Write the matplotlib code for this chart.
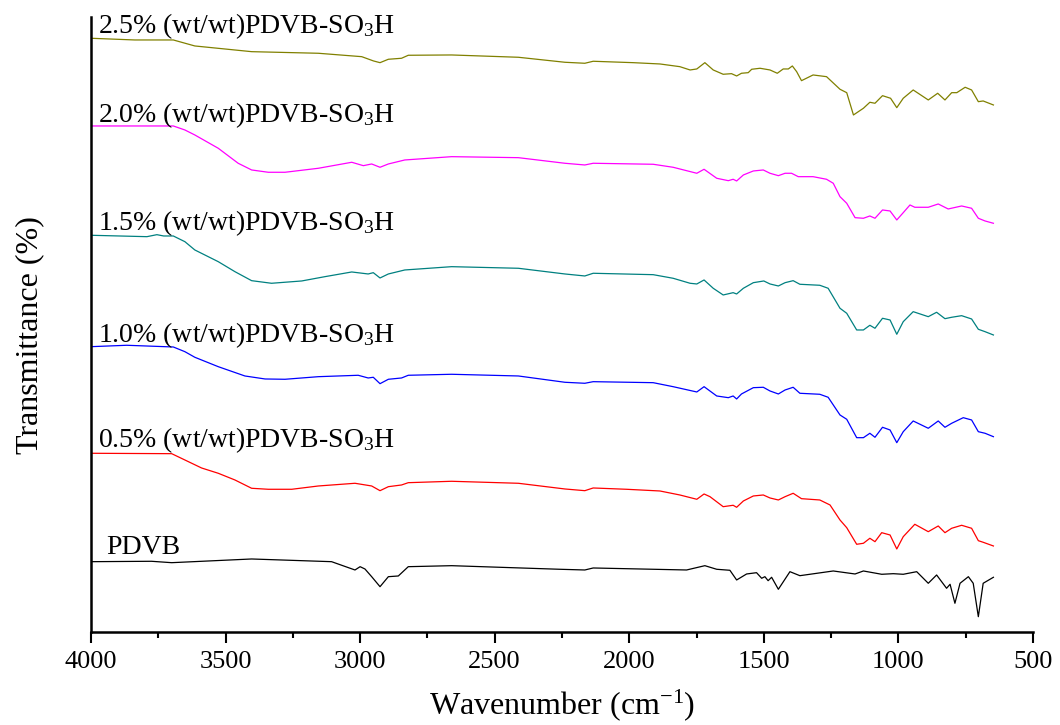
import matplotlib
matplotlib.use('Agg')
import matplotlib.pyplot as plt
from matplotlib.ticker import MultipleLocator

plt.rcParams['font.family'] = ['Liberation Serif', 'DejaVu Serif']
plt.rcParams['mathtext.fontset'] = 'custom'
plt.rcParams['mathtext.rm'] = 'Liberation Serif'
plt.rcParams['mathtext.it'] = 'Liberation Serif:italic'

# wavenumber (cm-1) and stacked transmittance (arb. units)
wn_pdvb = [4000, 3775, 3700, 3403, 3106, 3019, 3000, 2982, 2957, 2926, 2895, 2858, 2821, 2660, 2257,
           2165, 2134, 1787, 1719, 1675, 1626, 1601, 1564, 1527, 1508, 1496, 1484, 1471, 1446, 1403,
           1366, 1242, 1161, 1130, 1062, 1019, 982, 932, 889, 858, 821, 808, 790, 771, 740, 722, 703,
           685, 647]
t_pdvb = [70.3, 70.7, 69.3, 73, 70.3, 62, 65.3, 63, 55.3, 45.3, 55.3, 56, 65.3, 66.3, 62.7,
          62, 64, 62, 66.3, 62.7, 61.7, 52, 58, 59.3, 53.7, 55.3, 51.3, 54.7, 42.7, 60.3,
          56.3, 61, 58, 61, 57.7, 58.3, 57.7, 60.3, 48.7, 57, 43.7, 47.7, 28.7, 48.7, 55.3, 48.7, 15.3,
          48.7, 54.7]

wn_05 = [4000, 3700, 3651, 3589, 3527, 3465, 3403, 3341, 3254, 3155, 3019, 2957, 2926, 2895, 2846,
         2821, 2660, 2412, 2239, 2165, 2134, 2010, 1886, 1812, 1749, 1722, 1700, 1651, 1614, 1601,
         1576, 1539, 1502, 1477, 1446, 1421, 1391, 1360, 1292, 1254, 1217, 1192, 1155, 1130, 1106,
         1087, 1062, 1031, 1006, 982, 939, 889, 852, 827, 802, 765, 728, 703, 685, 647]
t_05 = [178.7, 178.3, 172, 164, 158.7, 152, 143.7, 142.7, 142.7, 146, 148.7, 146, 141.3, 145.3, 147,
        149.3, 150.7, 148.7, 143, 141.3, 144, 142.7, 141, 137, 132.7, 138, 135.3, 125.3, 126.7, 124.7,
        131, 136, 137, 134, 132, 135.3, 138.7, 133.3, 132, 127, 112, 104.3, 87.7, 88.7, 93.7,
        90.3, 99.3, 97, 83, 95.3, 107.7, 100.3, 106, 99.3, 103.7, 106.7, 103.7, 91.3, 89.7, 86]

wn_10 = [4000, 3867, 3694, 3651, 3614, 3527, 3428, 3353, 3279, 3155, 3007, 2970, 2951, 2926, 2895,
         2846, 2821, 2660, 2412, 2239, 2165, 2134, 1911, 1837, 1749, 1722, 1675, 1632, 1614, 1601,
         1583, 1539, 1502, 1477, 1446, 1421, 1391, 1366, 1292, 1261, 1217, 1192, 1155, 1130, 1106,
         1087, 1059, 1031, 1006, 982, 945, 889, 852, 827, 802, 759, 728, 703, 678, 647]
t_10 = [285.3, 286.7, 285, 280.3, 274.7, 265.3, 256, 253, 252.7, 255.3, 256.7, 254, 254.7, 248.3, 252.7,
        254, 256.7, 257.7, 256, 249.7, 248.7, 250.3, 249.3, 245.3, 240, 245.3, 236, 234.3, 236, 233,
        238, 244.3, 244.7, 241, 238, 242, 244.7, 238.7, 237.7, 234.7, 217, 212.7, 194.3, 194.3, 198.7,
        194.7, 204.7, 202, 189.3, 200.3, 211, 203.7, 211, 204.7, 208.7, 214.3, 212, 200.3, 198.7, 195.3]

wn_15 = [4000, 3792, 3755, 3730, 3694, 3651, 3614, 3527, 3465, 3403, 3329, 3217, 3131, 3031, 2970,
         2951, 2926, 2895, 2834, 2660, 2412, 2239, 2165, 2134, 1911, 1837, 1774, 1749, 1722, 1688,
         1651, 1614, 1601, 1576, 1539, 1500, 1477, 1446, 1421, 1391, 1366, 1292, 1261, 1217, 1192,
         1155, 1130, 1106, 1087, 1059, 1031, 1006, 982, 945, 889, 858, 827, 802, 765, 728, 703, 678, 647]
t_15 = [396.7, 395.3, 397.3, 396, 396, 390.3, 382, 370.3, 360.3, 351.3, 348.7, 351, 355.3, 360, 358,
        359.3, 354, 358, 362, 365.3, 363.7, 358, 356, 358.7, 357.3, 353.7, 348.7, 348, 352, 343.7,
        337, 339.3, 338, 343.7, 349.3, 351, 348, 346, 349.3, 351.3, 347.7, 346.7, 343.7, 323.7, 318.7,
        302, 302, 306.7, 303.7, 313.7, 312, 297.7, 310.3, 320.3, 315.3, 319.7, 313.3, 314.7, 316.3, 313,
        302.7, 300.3, 297]

wn_20 = [4000, 3694, 3651, 3614, 3527, 3453, 3403, 3341, 3279, 3155, 3031, 2988, 2957, 2926, 2895,
         2834, 2660, 2412, 2239, 2165, 2134, 1911, 1837, 1749, 1722, 1675, 1632, 1614, 1601, 1576,
         1539, 1502, 1477, 1446, 1421, 1397, 1372, 1317, 1267, 1242, 1217, 1192, 1161, 1130, 1106,
         1087, 1059, 1031, 1006, 982, 957, 939, 889, 852, 815, 765, 728, 703, 678, 647]
t_20 = [506, 506, 502, 497, 483.7, 468.7, 462, 459.7, 459.7, 463.7, 469.7, 466.3, 468, 464.7, 468,
        472, 475.3, 474.3, 468.7, 467, 468.7, 467.7, 464.7, 458.7, 462.7, 453.7, 451.3, 452.7, 451, 457,
        461, 462, 458.7, 456.3, 458.7, 458.7, 455.3, 455.3, 452.7, 448.7, 435.3, 428.7, 414.3, 413.7, 416,
        413.7, 422, 421, 412, 419.3, 427, 424.7, 424.7, 428, 423, 426, 423.7, 413.7, 411, 408.7]

wn_25 = [4000, 3837, 3694, 3614, 3403, 3155, 2994, 2950, 2926, 2895, 2846, 2821, 2660, 2412, 2239,
         2165, 2134, 1985, 1886, 1812, 1774, 1749, 1719, 1688, 1651, 1620, 1601, 1583, 1558, 1545,
         1514, 1477, 1450, 1428, 1409, 1394, 1378, 1360, 1317, 1267, 1217, 1192, 1167, 1130, 1106,
         1087, 1059, 1029, 1006, 982, 945, 889, 854, 827, 802, 783, 752, 728, 703, 685, 647]
t_25 = [593.7, 592, 592, 586, 580.3, 578.7, 575.3, 571, 569.3, 572.7, 573.7, 576.7, 577, 574.7, 569.7,
        568.7, 570.7, 569.3, 568, 565.3, 562, 563, 569.3, 562, 557.7, 558.3, 556, 558.7, 559.3, 562.7,
        563.7, 562, 558.7, 563, 563, 566, 560.3, 551.3, 557, 555.3, 542.7, 539.3, 517, 523.7, 529.7,
        528.7, 536.3, 533.7, 524.3, 533.7, 542, 532, 538.7, 532, 539.3, 539.3, 544.7, 542, 530.3, 531, 527]

labels = ['PDVB',
          '0.5% (wt/wt)PDVB-SO$_3$H',
          '1.0% (wt/wt)PDVB-SO$_3$H',
          '1.5% (wt/wt)PDVB-SO$_3$H',
          '2.0% (wt/wt)PDVB-SO$_3$H',
          '2.5% (wt/wt)PDVB-SO$_3$H']
label_y = [78, 185, 290, 402, 510, 599]
colors = ['black', '#ff0000', '#0000ff', '#008080', '#ff00ff', '#808000']

series = [(wn_pdvb, t_pdvb), (wn_05, t_05), (wn_10, t_10),
          (wn_15, t_15), (wn_20, t_20), (wn_25, t_25)]

fig = plt.figure(figsize=(10.6, 7.25), dpi=100)
ax = fig.add_axes([0.0858, 0.1283, 0.8887, 0.8483])

for (wn, t), c in zip(series, colors):
    ax.plot(wn, t, color=c, lw=0.9)

for i, (lab, y) in enumerate(zip(labels, label_y)):
    x = 3942 if i == 0 else 3974
    ax.text(x, y, lab, fontsize=20, va='baseline', ha='left')

ax.set_xlim(4000, 500)
ax.set_ylim(0, 615)
ax.xaxis.set_major_locator(MultipleLocator(500))
ax.xaxis.set_minor_locator(MultipleLocator(250))
ax.set_yticks([])
ax.spines['top'].set_visible(False)
ax.spines['right'].set_visible(False)
ax.spines['left'].set_linewidth(1.8)
ax.spines['bottom'].set_linewidth(1.8)
ax.tick_params(axis='x', which='major', length=8, width=1.5, labelsize=19, pad=6)
ax.tick_params(axis='x', which='minor', length=4.5, width=1.5)

ax.set_xlabel('Wavenumber (cm$^{-1}$)', fontsize=23, labelpad=10)
ax.set_ylabel('Transmittance (%)', fontsize=23)
ax.yaxis.set_label_coords(-0.05, 0.483)

fig.savefig('out.png', dpi=100)
